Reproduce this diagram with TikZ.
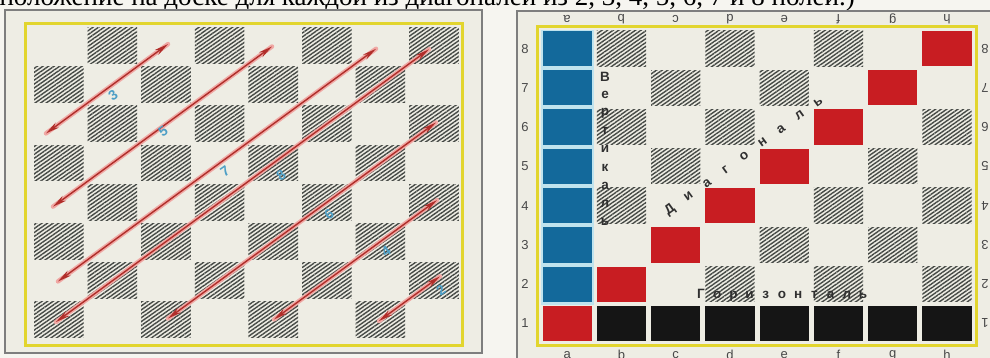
\documentclass[tikz,border=0pt]{standalone}
\usepackage{fontspec}
\setmainfont{Liberation Serif}
\newfontfamily\lsans{Liberation Sans}
\usetikzlibrary{patterns.meta,arrows.meta}
\definecolor{pagebg}{HTML}{F6F5F0}
\definecolor{boardbg}{HTML}{EEEDE4}
\definecolor{framegrey}{HTML}{7E7E7E}
\definecolor{yellowc}{HTML}{E2D52E}
\definecolor{hatchc}{HTML}{464A46}
\definecolor{sqred}{HTML}{C81D22}
\definecolor{sqblue}{HTML}{13699B}
\definecolor{sqblack}{HTML}{151515}
\definecolor{cyangap}{HTML}{BFE3EE}
\definecolor{arrred}{HTML}{B02E2A}
\definecolor{arrglow}{HTML}{F0A8A4}
\definecolor{lblblue}{HTML}{4E9FC6}
\definecolor{coordgrey}{HTML}{484848}
\definecolor{wordgrey}{HTML}{303030}
\tikzset{
  hatchsq/.style={pattern={Lines[angle=35,distance=3.2pt,line width=1.4pt]}, pattern color=hatchc},
  diagarrow/.style={draw=arrred, line width=1.4pt, {Stealth[length=14pt,width=6pt]}-{Stealth[length=14pt,width=6pt]}},
  glow/.style={draw=arrglow, line width=4.5pt, line cap=round},
  numlbl/.style={font=\lsans\bfseries\fontsize{14}{14}\selectfont, text=lblblue, rotate=35, inner sep=0pt},
  coordlbl/.style={font=\lsans\fontsize{13}{13}\selectfont, text=coordgrey, inner sep=0pt},
  boardword/.style={font=\lsans\bfseries\fontsize{13.5}{13.5}\selectfont, text=wordgrey, inner sep=0pt},
  toptext/.style={font=\fontsize{27}{27}\selectfont, inner sep=0pt, anchor=base east}
}
\newcommand\lcell[3]{\fill[#1] ({32+53.6*#2+2},{26+39.2*#3+1.5}) rectangle ({32+53.6*(#2+1)-2},{26+39.2*(#3+1)-2});}
\newcommand\rcell[3]{\fill[#1] ({540+54.25*#2+2.5},{29+39.25*#3+2}) rectangle ({540+54.25*(#2+1)-2.5},{29+39.25*(#3+1)-2});}
\begin{document}
\begin{tikzpicture}[x=1pt,y=-1pt]
\useasboundingbox (0,0) rectangle (990,358);
\clip (0,0) rectangle (990,358);
\fill[pagebg] (0,0) rectangle (990,358);

% caption line cut by the top edge
\node[toptext] (cap) at (855,6) {расположение на доске для каждой из диагоналей из 2, 3, 4, 5, 6, 7 и 8 полей.)};

% ---------------- left board ----------------
\fill[boardbg] (5,10) rectangle (482,353);
\draw[framegrey, line width=1.2pt] (5,10) rectangle (482,353);
\draw[yellowc, line width=3pt] (25,24) rectangle (462,345);
\foreach \i in {0,...,7} {
  \foreach \c in {0,...,7} {
    \pgfmathtruncatemacro\odd{mod(\i+\c,2)}
    \ifnum\odd=1 \lcell{hatchsq}{\c}{\i}\fi
  }
}
% diagonals
\coordinate (A1) at (46,133.4);  \coordinate (A2) at (168,44.1);
\coordinate (B1) at (53,206.6);  \coordinate (B2) at (272,46.5);
\coordinate (C1) at (58,281.4);  \coordinate (C2) at (376,48.8);
\coordinate (D1) at (56,322.0);  \coordinate (D2) at (429,49.3);
\coordinate (E1) at (168,318.5); \coordinate (E2) at (436,122.5);
\coordinate (F1) at (274,319.4); \coordinate (F2) at (437,200.2);
\coordinate (G1) at (379,321.0); \coordinate (G2) at (440,276.4);
\foreach \p in {A,B,C,D,E,F,G} {
  \draw[glow] (\p1) -- (\p2);
}
\foreach \p in {A,B,C,D,E,F,G} {
  \draw[diagarrow] (\p1) -- (\p2);
}
\node[numlbl] (n3) at (113,95) {3};
\node[numlbl] (n5) at (163,131) {5};
\node[numlbl] (n7) at (225,171) {7};
\node[numlbl] (n8) at (281,175) {8};
\node[numlbl] (n6) at (329,214) {6};
\node[numlbl] (n4) at (386,251) {4};
\node[numlbl] (n2) at (441,290) {2};

% ---------------- right board ----------------
\fill[boardbg] (517,11) rectangle (990,358);
\draw[framegrey, line width=1.2pt] (517,358) -- (517,11) -- (990,11);
\draw[yellowc, line width=3pt] (537,27) rectangle (976,345);
% hatched dark squares not coloured
\foreach \i in {0,...,6} {
  \foreach \c in {1,...,7} {
    \pgfmathtruncatemacro\odd{mod(\i+\c,2)}
    \pgfmathtruncatemacro\sm{\i+\c}
    \ifnum\odd=1 \ifnum\sm=7 \else \rcell{hatchsq}{\c}{\i}\fi\fi
  }
}
\fill[cyangap] (541,30) rectangle (593.5,305);
\foreach \i in {0,...,6} { \rcell{sqblue}{0}{\i} }
\foreach \c in {1,...,7} { \rcell{sqblack}{\c}{7} }
\foreach \c in {0,...,7} { \pgfmathtruncatemacro\ii{7-\c} \rcell{sqred}{\c}{\ii} }

% coordinates
\foreach \r [count=\k from 0] in {8,7,6,5,4,3,2,1} {
  \node[coordlbl] (L\r) at (525,{29+39.25*(\k+0.5)}) {\r};
  \node[coordlbl, rotate=180] (R\r) at (985,{29+39.25*(\k+0.5)}) {\r};
}
\foreach \f [count=\k from 0] in {a,b,c,d,e,f,g,h} {
  \node[coordlbl, rotate=180] (T\f) at ({540+54.25*(\k+0.5)},19) {\f};
  \node[coordlbl] (B\f) at ({540+54.25*(\k+0.5)},355) {\f};
}

% words
\foreach \ch [count=\k from 0] in {В,е,р,т,и,к,а,л,ь} {
  \node[boardword] (v\k) at (605,{77+18.1*\k}) {\ch};
}
\foreach \ch [count=\k from 0] in {Д,и,а,г,о,н,а,л,ь} {
  \node[boardword, rotate=36] (d\k) at ({670+18.5*\k},{210-13.5*\k}) {\ch};
}
\foreach \ch [count=\k from 0] in {Г,о,р,и,з,о,н,т,а,л,ь} {
  \node[boardword, anchor=base] (h\k) at ({701+16.2*\k},298) {\ch};
}
\end{tikzpicture}
\end{document}
